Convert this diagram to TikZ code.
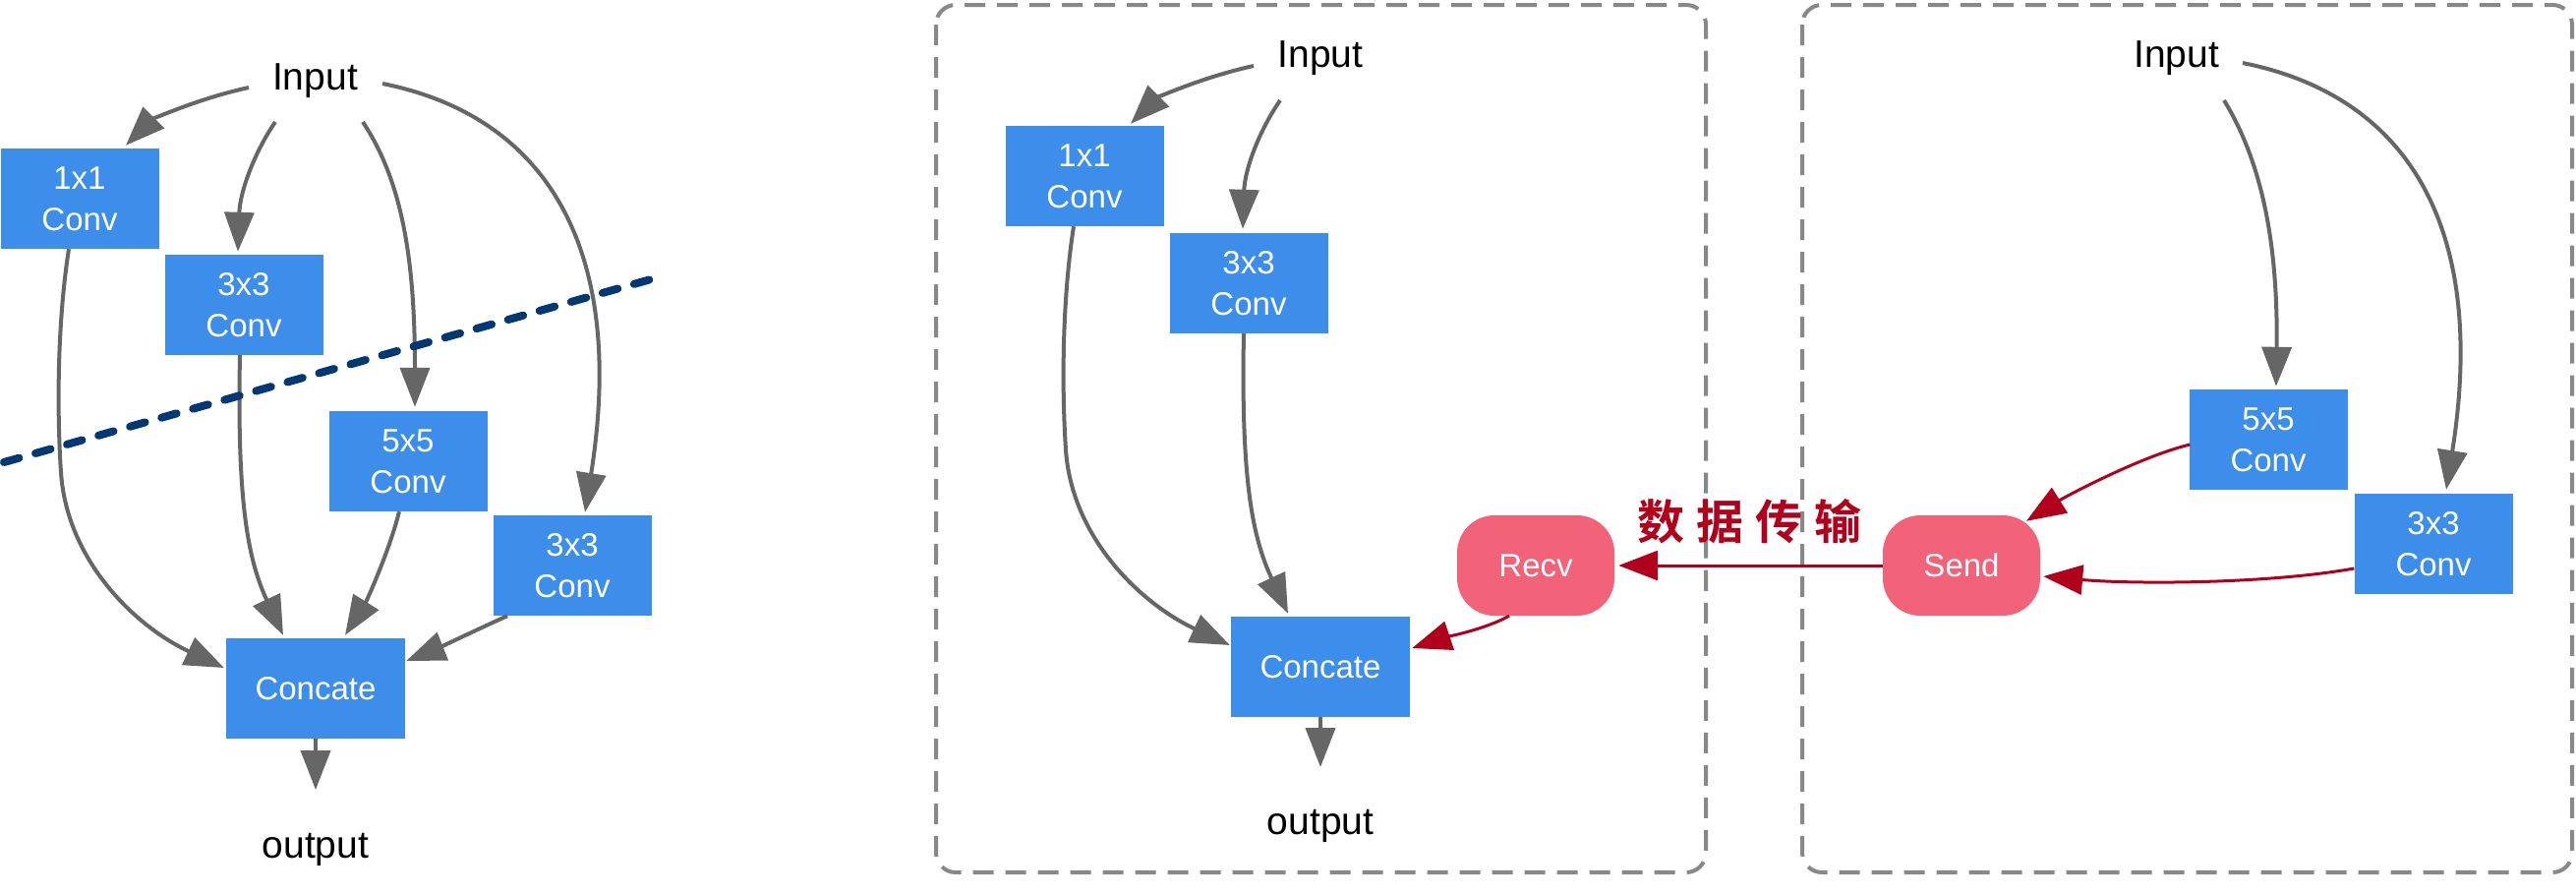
\documentclass[tikz,border=0pt]{standalone}
\usepackage{fontspec}
\setmainfont{Liberation Sans}
\newfontfamily\cjkfont{Noto Sans CJK SC}[BoldFont=* Bold]
\usetikzlibrary{arrows.meta,calc}
\definecolor{boxblue}{RGB}{61,142,234}
\definecolor{pillpink}{RGB}{242,98,121}
\definecolor{arrred}{RGB}{176,0,28}
\definecolor{arrgray}{RGB}{102,102,102}
\definecolor{navydash}{RGB}{0,56,118}
\definecolor{framegray}{RGB}{136,136,136}
\begin{document}
\begin{tikzpicture}[x=1pt,y=-1pt,
  conv/.style={fill=boxblue, draw=none, minimum width=161pt, minimum height=102pt,
    inner sep=0pt, text=white, align=center, font=\fontsize{33}{42}\selectfont},
  catbox/.style={conv, minimum width=182pt},
  pill/.style={fill=pillpink, draw=none, rounded corners=38pt, minimum width=160pt,
    minimum height=102pt, inner sep=0pt, text=white, font=\fontsize{33}{42}\selectfont},
  lbl/.style={inner sep=0pt, anchor=base, font=\fontsize{39}{44}\selectfont},
  garr/.style={draw=arrgray, line width=4pt, -{Triangle[length=40pt,width=30pt]}},
  rarr/.style={draw=arrred, line width=3pt, -{Triangle[length=40pt,width=30pt]}},
  frame/.style={draw=framegray, line width=4pt, dash pattern=on 21pt off 12pt, rounded corners=20pt},
  cut/.style={draw=navydash, line width=8pt, line cap=round, dash pattern=on 16pt off 17.3pt}
]
\useasboundingbox (0,0) rectangle (2620,908);

% frames
\draw[frame] (952,5) rectangle (1735,887);
\draw[frame] (1833,5) rectangle (2616,887);

% ---------- left panel ----------
\node[lbl] (inL) at (320.5,91) {Input};
\node[conv] (c11L) at (81,202) {1x1\\Conv};
\node[conv] (c33L) at (248,310) {3x3\\Conv};
\node[conv] (c55L) at (415,469) {5x5\\Conv};
\node[conv] (c33rL) at (582,575) {3x3\\Conv};
\node[catbox] (catL) at (321,700) {Concate};
\node[lbl] (outL) at (321,872) {output};

\draw[garr] ($(inL.base)+(-67.5,-2)$) .. controls +(-55,12) and +(25,-25) .. ($(c11L.north)+(47,-3)$);
\draw[garr] ($(inL.base)+(-40.5,33)$) .. controls +(-22,32) and +(2,-60) .. ($(c33L.north)+(-6,-3)$);
\draw[garr] ($(inL.base)+(48.5,33)$) .. controls +(40,60) and +(0,-150) .. ($(c55L.north)+(7,-4)$);
\draw[garr] ($(inL.base)+(68.5,-6)$) .. controls +(170,34) and +(42,-264) .. ($(c33rL.north)+(13,-3)$);
\draw[garr] ($(c11L.south)+(-11,0)$) .. controls +(-12,77) and +(-4,-60) .. ($(c11L.south)+(-19,227)$)
   .. controls +(6,90) and +(-90,-42) .. ($(catL.west)+(-2,-21)$);
\draw[garr] ($(c33L.south)+(-4,0)$) .. controls +(-3,149) and +(-36,-77) .. ($(catL.north)+(-33,-3)$);
\draw[garr] ($(c55L.south)+(-9,0)$) .. controls +(-10,40) and +(22,-35) .. ($(catL.north)+(30,-3)$);
\draw[garr] ($(c33rL.south)+(-66,0)$) .. controls +(-35,16) and +(30,-12) .. ($(catL.east)+(1,-28)$);
\draw[garr] (catL.south) -- ($(outL.base)+(0,-69)$);

\coordinate (cutA) at (4,470);
\coordinate (cutB) at (662,284);
\draw[cut] (cutA) -- (cutB);

% ---------- middle panel ----------
\node[lbl] (inM) at (1343,68) {Input};
\node[conv] (c11M) at (1103,179) {1x1\\Conv};
\node[conv] (c33M) at (1270,288) {3x3\\Conv};
\node[catbox] (catM) at (1343,678) {Concate};
\node[pill] (recv) at (1562,575) {Recv};
\node[lbl] (outM) at (1343,848) {output};

\draw[garr] ($(inM.base)+(-68,-1)$) .. controls +(-55,12) and +(25,-25) .. ($(c11M.north)+(47,-2)$);
\draw[garr] ($(inM.base)+(-41,34)$) .. controls +(-22,32) and +(2,-60) .. ($(c33M.north)+(-6,-4)$);
\draw[garr] ($(c11M.south)+(-11,0)$) .. controls +(-12,77) and +(-4,-60) .. ($(c11M.south)+(-19,227)$)
   .. controls +(6,90) and +(-90,-42) .. ($(catM.west)+(-1,-22)$);
\draw[garr] ($(c33M.south)+(-5,0)$) .. controls +(-3,149) and +(-36,-77) .. ($(catM.north)+(-33,-3)$);
\draw[garr] (catM.south) -- ($(outM.base)+(0,-68)$);
\draw[rarr] ($(recv.south)+(-27,0)$) .. controls +(-25,14) and +(30,-10) .. ($(catM.east)+(2,-19)$);

% ---------- right panel ----------
\node[lbl] (inR) at (2213.5,68) {Input};
\node[conv] (c55R) at (2307,447) {5x5\\Conv};
\node[conv] (c33R) at (2475,553) {3x3\\Conv};
\node[pill] (send) at (1995,575) {Send};

\draw[garr] ($(inR.base)+(48.5,34)$) .. controls +(40,65) and +(2,-140) .. ($(c55R.north)+(8,-3)$);
\draw[garr] ($(inR.base)+(67.5,-4)$) .. controls +(170,34) and +(42,-264) .. ($(c33R.north)+(13,-4)$);
\draw[rarr] ($(c55R.west)+(1,5)$) .. controls +(-50,12) and +(40,-25) .. ($(send.north)+(66,6)$);
\draw[rarr] ($(c33R.west)+(0,25)$) .. controls +(-90,16) and +(90,8) .. ($(send.east)+(3,11)$);

% ---------- transfer ----------
\draw[rarr] (send.west) -- ($(recv.east)+(4,0)$);
\node[inner sep=0pt, text=arrred, font=\cjkfont\bfseries\fontsize{48}{52}\selectfont] (xfer) at (1779,530)
  {数\kern12pt 据\kern12pt 传\kern12pt 输};
\end{tikzpicture}
\end{document}
